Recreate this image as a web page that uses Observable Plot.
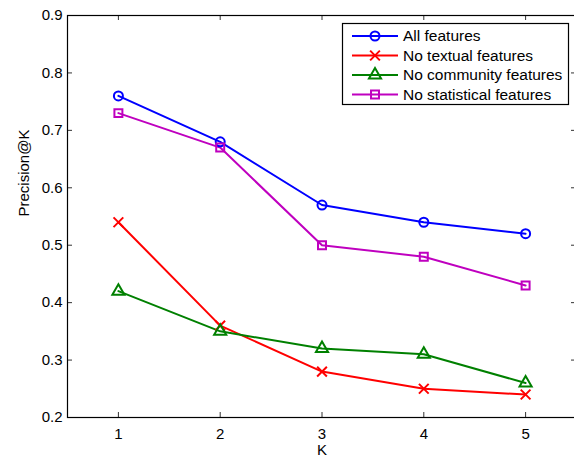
<!DOCTYPE html>
<html>
<head>
<meta charset="utf-8">
<script src="https://cdn.jsdelivr.net/npm/d3@7"></script>
<script src="https://cdn.jsdelivr.net/npm/@observablehq/plot@0.6"></script>
<style>
  html, body { margin: 0; padding: 0; background: #fff; }
  #chart { position: relative; width: 574px; height: 457px; }
</style>
</head>
<body>
<div id="chart"></div>
<script>
const K = [1, 2, 3, 4, 5];
const yTicks = [0.2, 0.3, 0.4, 0.5, 0.6, 0.7, 0.8, 0.9];
const seriesNames = ["All features", "No textual features", "No community features", "No statistical features"];
const allFeatures = [0.76, 0.68, 0.57, 0.54, 0.52];
const noTextual = [0.54, 0.36, 0.28, 0.25, 0.24];
const noCommunity = [0.42, 0.35, 0.32, 0.31, 0.26];
const noStatistical = [0.73, 0.67, 0.50, 0.48, 0.43];
const seriesValues = [allFeatures, noTextual, noCommunity, noStatistical];
const colors = ["#0000ff", "#ff0000", "#008000", "#bf00bf"];
const symbols = ["circle", "times", "triangle", "square"];

const data = seriesNames.flatMap((s, i) => K.map((k, j) => ({k, v: seriesValues[i][j], s})));

const font = "'Liberation Sans', Arial, Helvetica, sans-serif";
const W = 574, H = 457, mL = 67, mR = -2, mT = 15, mB = 40;
const plotW = W - mL - mR, plotH = H - mT - mB, tick = 5;

const plot = Plot.plot({
  width: W,
  height: H,
  marginLeft: mL,
  marginRight: mR,
  marginTop: mT,
  marginBottom: mB,
  style: {fontFamily: font, fontSize: "15px", background: "#fff", color: "#000", overflow: "visible"},
  x: {domain: [0.5, 5.5]},
  y: {domain: [0.2, 0.9]},
  color: {domain: seriesNames, range: colors},
  symbol: {domain: seriesNames, range: symbols},
  marks: [
    Plot.axisX({ticks: K, tickSize: 0, tickPadding: 11, tickFormat: d3.format("d"), label: null}),
    Plot.axisY({ticks: yTicks, tickSize: 0, tickPadding: 5, tickFormat: d3.format(".1f"), label: null}),
    // inward ticks on all four sides
    Plot.tickX(K, {x: d => d, insetTop: plotH - tick, stroke: "#333"}),
    Plot.tickX(K, {x: d => d, insetBottom: plotH - tick, stroke: "#333"}),
    Plot.tickY(yTicks, {y: d => d, insetRight: plotW - tick, stroke: "#333"}),
    Plot.tickY(yTicks, {y: d => d, insetLeft: plotW - tick, stroke: "#333"}),
    Plot.frame({stroke: "#000", strokeWidth: 1.2}),
    Plot.line(data, {x: "k", y: "v", z: "s", stroke: "s", strokeWidth: 2}),
    Plot.dot(data, {x: "k", y: "v", stroke: "s", symbol: "s", r: 4.5, strokeWidth: 2, fill: "none"}),
    Plot.text(["K"], {frameAnchor: "bottom", dy: 27, lineAnchor: "top", fontSize: 15}),
    Plot.text(["Precision@K"], {frameAnchor: "left", dx: -43, rotate: -90, fontSize: 15})
  ]
});

document.getElementById("chart").appendChild(plot);

// Legend (inside the plot area, top-right)
const svg = d3.select(plot);
const lg = svg.append("g").attr("font-family", font).attr("font-size", "15.5px").attr("text-anchor", "start");
lg.append("rect").attr("x", 342.5).attr("y", 23.5).attr("width", 226).attr("height", 81)
  .attr("fill", "#fff").attr("stroke", "#000").attr("stroke-width", 1.2);
const rowY = [36, 55.5, 75, 94.5];
seriesNames.forEach((name, i) => {
  const g = lg.append("g").attr("transform", `translate(0,${rowY[i]})`);
  g.append("line").attr("x1", 352).attr("x2", 398).attr("y1", 0).attr("y2", 0)
    .attr("stroke", colors[i]).attr("stroke-width", 2);
  const symType = {circle: d3.symbolCircle, times: d3.symbolTimes, triangle: d3.symbolTriangle, square: d3.symbolSquare}[symbols[i]];
  g.append("path").attr("transform", "translate(375,0)")
    .attr("d", d3.symbol(symType, 4.5 * 4.5 * Math.PI)())
    .attr("fill", "none").attr("stroke", colors[i]).attr("stroke-width", 2);
  g.append("text").attr("x", 403).attr("y", 0).attr("dy", "0.35em").attr("text-anchor", "start").attr("fill", "#000").text(name);
});
</script>
</body>
</html>
